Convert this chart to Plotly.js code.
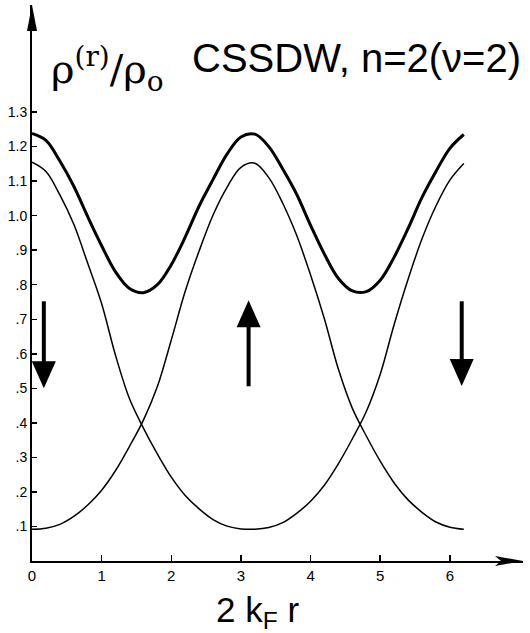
<!DOCTYPE html>
<html>
<head>
<meta charset="utf-8">
<script src="https://cdn.plot.ly/plotly-3.0.1.min.js"></script>
<style>html,body{margin:0;padding:0;background:#fff;}#chart{width:530px;height:633px;}</style>
</head>
<body>
<div id="chart"></div>
<script>
// x = 2 k_F r
const xVals = [0,0.2,0.4,0.6,0.8,1.0,1.2,1.4,1.6,1.8,2.0,2.2,2.4,2.6,2.8,3.0,3.2,3.4,3.6,3.8,4.0,4.2,4.4,4.6,4.8,5.0,5.2,5.4,5.6,5.8,6.0,6.2];
// total density (thick)
const totalRho = [1.238,1.218,1.158,1.085,0.997,0.913,0.837,0.789,0.777,0.800,0.858,0.938,1.028,1.105,1.178,1.228,1.236,1.200,1.135,1.062,0.972,0.888,0.818,0.782,0.780,0.813,0.880,0.963,1.053,1.128,1.195,1.235];
// spin-down density (thin, max at 0 and 2pi)
const downRho = [1.155,1.128,1.060,0.975,0.862,0.745,0.595,0.470,0.385,0.310,0.243,0.190,0.151,0.120,0.101,0.093,0.092,0.097,0.111,0.138,0.173,0.220,0.282,0.354,0.433,0.541,0.685,0.816,0.933,1.028,1.103,1.151];
// spin-up density (thin, max at pi)
const upRho = [0.092,0.095,0.106,0.129,0.162,0.205,0.262,0.332,0.408,0.505,0.640,0.781,0.898,1.002,1.082,1.140,1.152,1.110,1.036,0.943,0.828,0.700,0.555,0.442,0.362,0.289,0.226,0.177,0.141,0.113,0.098,0.092];

const xTickVals = [0,1,2,3,4,5,6];
const xTickText = ['0','1','2','3','4','5','6'];
const yTickVals = [0.1,0.2,0.3,0.4,0.5,0.6,0.7,0.8,0.9,1.0,1.1,1.2,1.3];
const yTickText = ['.1','.2','.3','.4','.5','.6','.7','.8','.9','1.0','1.1','1.2','1.3'];

// spin arrows: x position, tail y, tip y
const arrowX = [0.17, 3.11, 6.17];
const arrowTail = [0.752, 0.506, 0.752];
const arrowTip = [0.500, 0.755, 0.507];

const traces = [
  {x: xVals, y: downRho, mode: 'lines', line: {color: '#000', width: 1.5, shape: 'spline', smoothing: 1}, hoverinfo: 'skip'},
  {x: xVals, y: upRho, mode: 'lines', line: {color: '#000', width: 1.5, shape: 'spline', smoothing: 1}, hoverinfo: 'skip'},
  {x: xVals, y: totalRho, mode: 'lines', line: {color: '#000', width: 3, shape: 'spline', smoothing: 1}, hoverinfo: 'skip'}
];

const shapes = [];
// axis arrowheads (pixel-sized, anchored at axis ends)
shapes.push({type: 'path', xref: 'paper', yref: 'paper', xsizemode: 'pixel', ysizemode: 'pixel', xanchor: 0, yanchor: 1,
  path: 'M0,0 L-5,-26 L5,-26 Z', fillcolor: '#000', line: {width: 0}});
shapes.push({type: 'path', xref: 'paper', yref: 'paper', xsizemode: 'pixel', ysizemode: 'pixel', xanchor: 1, yanchor: 0,
  path: 'M0,0 L-28,5 L-22,0 L-28,-5 Z', fillcolor: '#000', line: {width: 0}});
// spin arrows
for (let i = 0; i < arrowX.length; i++) {
  const down = arrowTip[i] < arrowTail[i];
  const headLen = 27;
  shapes.push({type: 'line', xref: 'x', yref: 'y', x0: arrowX[i], x1: arrowX[i], y0: arrowTail[i], y1: arrowTip[i] + (down ? 0.06 : -0.06),
    line: {color: '#000', width: 4}});
  shapes.push({type: 'path', xref: 'x', yref: 'y', xsizemode: 'pixel', ysizemode: 'pixel', xanchor: arrowX[i], yanchor: arrowTip[i],
    path: down ? 'M0,0 L-12,' + headLen + ' L12,' + headLen + ' Z' : 'M0,0 L-12,-' + headLen + ' L12,-' + headLen + ' Z',
    fillcolor: '#000', line: {width: 0}});
}

const annotations = [
  {text: 'ρ<sup>(r)</sup>/ρ<sub>o</sub>', xref: 'paper', yref: 'paper', x: 0.035, y: 0.885, xanchor: 'left', yanchor: 'middle', showarrow: false,
   font: {family: 'DejaVu Serif', size: 40, color: '#000'}},
  {text: 'CSSDW, n=2(ν=2)', xref: 'paper', yref: 'paper', x: 1.0, y: 0.905, xanchor: 'right', yanchor: 'middle', showarrow: false,
   font: {family: 'Liberation Sans, sans-serif', size: 40, color: '#000'}},
  {text: '2 k<sub>F</sub> r', xref: 'paper', yref: 'paper', x: 0.46, y: -0.092, xanchor: 'center', yanchor: 'middle', showarrow: false,
   font: {family: 'Liberation Sans, sans-serif', size: 35, color: '#000'}}
];

const layout = {
  width: 530, height: 633,
  margin: {l: 32, r: 7, t: 5, b: 72},
  paper_bgcolor: '#fff', plot_bgcolor: '#fff',
  showlegend: false,
  font: {family: 'Liberation Sans, sans-serif', color: '#000'},
  xaxis: {range: [0, 7.05], showgrid: false, zeroline: false, showline: true, linecolor: '#000', linewidth: 2,
    tickmode: 'array', tickvals: xTickVals, ticktext: xTickText, ticks: 'inside', ticklen: 6, tickwidth: 1.5, tickcolor: '#000',
    tickfont: {size: 15, color: '#000'}, ticklabelstandoff: 0, fixedrange: true},
  yaxis: {range: [0, 1.61], showgrid: false, zeroline: false, showline: true, linecolor: '#000', linewidth: 2,
    tickmode: 'array', tickvals: yTickVals, ticktext: yTickText, ticks: 'inside', ticklen: 5, tickwidth: 1.5, tickcolor: '#000',
    tickfont: {size: 14, color: '#000'}, fixedrange: true},
  shapes: shapes,
  annotations: annotations
};

Plotly.newPlot('chart', traces, layout, {displayModeBar: false, staticPlot: true});
</script>
</body>
</html>
